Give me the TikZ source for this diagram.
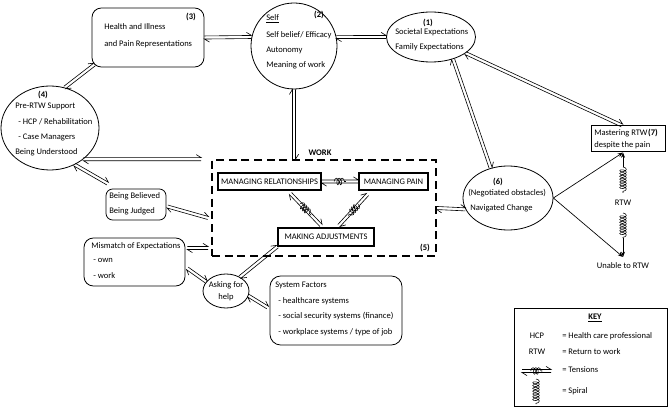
\documentclass[tikz,border=0pt]{standalone}
\usepackage{fontspec}
\setmainfont{Carlito}
\usetikzlibrary{arrows.meta,calc,fit,decorations.pathmorphing,decorations.markings,shapes.geometric}
\begin{document}
\begin{tikzpicture}[x=0.75pt,y=-0.75pt,
  font=\fontsize{6.4}{7.7}\selectfont,
  rbox/.style={draw, line width=0.6pt, rounded corners=7pt, inner sep=0pt},
  sbox/.style={draw, line width=0.8pt, inner sep=0pt},
  ell/.style={draw, line width=0.6pt, ellipse, inner sep=0pt},
  txt/.style={inner sep=0pt, anchor=west},
  ctxt/.style={inner sep=0pt},
  lbl/.style={inner sep=0pt, font=\fontsize{6.4}{7.7}\selectfont\bfseries},
  tens/.style={decorate, decoration={markings, mark=at position 0 with {
     \draw[line width=0.45pt] (0pt,1.15pt) -- (\pgfdecoratedpathlength,1.15pt) -- ++(-3.75pt,2.3pt);
     \draw[line width=0.45pt] (\pgfdecoratedpathlength,-1.15pt) -- (0pt,-1.15pt) -- ++(3.75pt,-2.3pt);}}},
  coilst/.style={decorate, decoration={coil, amplitude=2.5pt, segment length=2.1pt}, line width=0.4pt},
  tip/.style={-{Stealth[length=4pt,width=3pt]}, line width=0.5pt}
]
\fill[white] (0,0) rectangle (671,417);
\useasboundingbox (0,0) rectangle (671,417);

% ---------- nodes ----------
\node[rbox, fit={(92,8) (204,67)}] (h3) {};
\node[draw, circle, line width=0.6pt, inner sep=0pt, minimum size=86*0.75pt] (s2) at (294,46) {};
\node[ell, minimum width=89*0.75pt, minimum height=50*0.75pt] (e1) at (431,37) {};
\node[ell, minimum width=98*0.75pt, minimum height=84*0.75pt] (c4) at (50,128) {};
\node[draw, dashed, line width=1.2pt, dash pattern=on 6pt off 3.5pt, inner sep=0pt, fit={(212,160) (436,256)}] (work) {};
\node[sbox, fit={(218,173) (321,190)}] (mr) {};
\node[ctxt] (mrt) at (mr) {MANAGING RELATIONSHIPS};
\node[sbox, fit={(359,173) (428,190)}] (mp) {};
\node[ctxt] (mpt) at (mp) {MANAGING PAIN};
\node[sbox, fit={(278,228) (374,246)}] (madj) {};
\node[ctxt] (madjt) at (madj) {MAKING ADJUSTMENTS};
\node[ell, minimum width=90*0.75pt, minimum height=64*0.75pt] (e6) at (508,198) {};
\node[rbox, rounded corners=5pt, fit={(106,189) (166,220)}] (bb) {};
\node[rbox, fit={(84,238) (185,286)}] (mm) {};
\node[ell, minimum width=46*0.75pt, minimum height=34*0.75pt] (ask) at (226,291) {};
\node[rbox, rounded corners=8pt, fit={(270,276) (402,345)}] (sys) {};
\node[sbox, line width=0.75pt, fit={(591,126) (665,152)}] (m7) {};
\node[draw, line width=0.7pt, inner sep=0pt, fit={(514,308) (667,406)}] (kbox) {};

% ---------- texts ----------
\node[txt] (t1) at (104,27) {Health and Illness};
\node[txt] (t2) at (104,44) {and Pain Representations};
\node[lbl] (t3) at (191,17) {(3)};
\node[txt] (t4) at (266,19) {\underline{Self}};
\node[txt] (t5) at (266,35) {Self belief/ Efficacy};
\node[txt] (t6) at (266,50) {Autonomy};
\node[txt] (t7) at (266,65) {Meaning of work};
\node[lbl] (t8) at (319,15) {(2)};
\node[lbl] (t9) at (428,23) {(1)};
\node[txt] (t10) at (395,32) {Societal Expectations};
\node[txt] (t11) at (395,47) {Family Expectations};
\node[lbl] (t12) at (43,95) {(4)};
\node[txt] (t13) at (15,106) {Pre-RTW Support};
\node[txt] (t14) at (18,122) {- HCP / Rehabilitation};
\node[txt] (t15) at (18,137) {- Case Managers};
\node[txt] (t16) at (15,152) {Being Understood};
\node[lbl] (t17) at (320,153) {WORK};
\node[lbl] (t18) at (425,248) {(5)};
\node[txt] (t19) at (109,196) {Being Believed};
\node[txt] (t20) at (109,211) {Being Judged};
\node[txt] (t21) at (91,246) {Mismatch of Expectations};
\node[txt] (t22) at (93,260) {- own};
\node[txt] (t23) at (93,276) {- work};
\node[ctxt] (t24) at (226,285) {Asking for};
\node[ctxt] (t25) at (226,297) {help};
\node[txt] (t26) at (275,285) {System Factors};
\node[txt] (t27) at (278,301) {- healthcare systems};
\node[txt] (t28) at (278,316) {- social security systems (finance)};
\node[txt] (t29) at (278,332) {- workplace systems / type of job};
\node[lbl] (t30) at (498,182) {(6)};
\node[txt] (t31) at (468,193) {(Negotiated obstacles)};
\node[txt] (t32) at (470,208) {Navigated Change};
\node[txt] (t33) at (594,133) {Mastering RTW};
\node[lbl] (t34) at (653,133) {(7)};
\node[txt] (t35) at (594,145) {despite the pain};
\node[ctxt] (rtw) at (623,203) {RTW};
\node[ctxt] (t36) at (623,266) {Unable to RTW};
\node[lbl] (t37) at (595,318) {\underline{KEY}};
\node[ctxt] (t38) at (537,336) {HCP};
\node[txt] (t39) at (562,336) {= Health care professional};
\node[ctxt] (t40) at (537,352) {RTW};
\node[txt] (t41) at (562,352) {= Return to work};
\node[txt] (t42) at (562,370) {= Tensions};
\node[txt] (t43) at (562,391) {= Spiral};

% ---------- coordinates ----------
\coordinate (wl1) at (208,218);
\coordinate (wl2) at (208,248);
\coordinate (un) at (623,257);
\coordinate (r1) at (623,167);
\coordinate (r2) at (623,193);
\coordinate (r3) at (623,213);
\coordinate (r4) at (623,238);
\coordinate (ka) at (522,371);
\coordinate (kb) at (551,371);
\coordinate (ks1) at (536,379);
\coordinate (ks2) at (536,404);

% ---------- tension connectors ----------
\path[tens] (h3.east) -- (s2.168);
\path[tens] ($(h3.south west)+(3,-3)$) -- (c4.70);
\path[tens] (s2.12) -- (e1.west);
\path[tens] (s2.south) -- (s2.south |- work.north);
\path[tens] ($(e1.south)+(-3,0)$) -- ($(e1.south)+(-3,0)$ |- work.north);
\path[tens] (e1.-45) -- (e6.120);
\path[tens] (e1.-25) -- ($(m7.north)+(-6,0)$);
\path[tens] (c4.-43) -- ($(c4.-43 -| work.west)+(-10,0)$);
\path[tens] (c4.-56) -- ($(bb.north west)+(2,-5)$);
\path[tens] ($(bb.east)+(1,2)$) -- (wl1);
\path[tens] ($(bb.south)+(-4.5,0)$) -- ($(bb.south)+(-4.5,0)$ |- mm.north);
\path[tens] ($(mm.east |- wl2)+(2,0)$) -- (wl2);
\path[tens] ($(mm.south east)+(2,-18)$) -- (ask.155);
\path[tens] (ask.45) -- (madj.south west);
\path[tens] (ask.-12) -- ($(sys.west)+(-2,-3)$);
\path[tens] ($(madj.south)+(5,0)$) -- ($(madj.south)+(5,0)$ |- sys.north);
\path[tens] (work.east) -- (e6.195);
\path[tens] (mr) -- (mp) coordinate[pos=0.34] (k1a) coordinate[pos=0.66] (k1b);
\draw[coilst] (k1a) -- (k1b);
\path[tens] ($(mr.south)+(21,3)$) -- ($(madj.north)+(-5,-2)$) coordinate[pos=0.32] (k2a) coordinate[pos=0.68] (k2b);
\draw[coilst] (k2a) -- (k2b);
\path[tens] ($(mp.south west)+(9,4)$) -- ($(madj.north)+(13,-2)$) coordinate[pos=0.32] (k3a) coordinate[pos=0.68] (k3b);
\draw[coilst] (k3a) -- (k3b);

% ---------- outcome arrows ----------
\draw[tip] (e6.east) -- ($(m7.south)+(-5,0)$);
\draw[tip] (e6.east) -- (un);
\draw[tip] (r1) -- ($(m7.south)+(-5,0)$);
\draw[coilst] (r1) -- (r2);
\draw[coilst] (r3) -- (r4);
\draw[tip] (r4) -- (un);

% ---------- key symbols ----------
\path[tens] (ka) -- (kb) coordinate[pos=0.3] (k4a) coordinate[pos=0.7] (k4b);
\draw[coilst] (k4a) -- (k4b);
\draw[coilst] (ks1) -- (ks2);
\end{tikzpicture}
\end{document}
